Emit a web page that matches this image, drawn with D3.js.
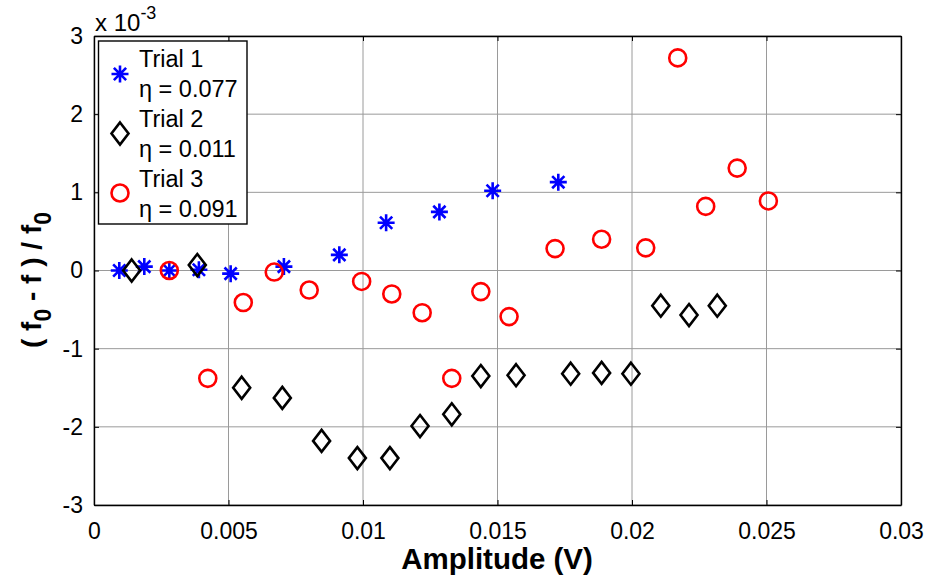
<!DOCTYPE html>
<html>
<head>
<meta charset="utf-8">
<script src="https://cdn.jsdelivr.net/npm/d3@7"></script>
<style>
  body { margin: 0; background: #fff; }
  svg { display: block; font-family: "Liberation Sans", Arial, sans-serif; }
</style>
</head>
<body>
<svg id="chart" width="928" height="577"></svg>
<script>
// Amplitude (V) and relative frequency shift (x 1e-3) for each trial
const trial1X = [0.00094, 0.00187, 0.0028, 0.0039, 0.00508, 0.00706, 0.00912, 0.01086, 0.01284, 0.01482, 0.01726];
const trial1Y = [0.0, 0.05, 0.0, 0.01, -0.04, 0.05, 0.2, 0.61, 0.75, 1.02, 1.13];

const trial2X = [0.0014, 0.00384, 0.00549, 0.007, 0.00846, 0.00979, 0.011, 0.01212, 0.0133, 0.01438, 0.01569, 0.01772, 0.01887, 0.01996, 0.02107, 0.02212, 0.02317];
const trial2Y = [0.0, 0.07, -1.50, -1.63, -2.18, -2.40, -2.40, -1.99, -1.84, -1.35, -1.34, -1.32, -1.31, -1.32, -0.45, -0.57, -0.45];

const trial3X = [0.0028, 0.00423, 0.00555, 0.0067, 0.008, 0.00995, 0.01107, 0.0122, 0.0133, 0.01438, 0.01543, 0.01714, 0.01887, 0.02051, 0.0217, 0.02274, 0.02391, 0.02507];
const trial3Y = [0.0, -1.38, -0.41, -0.02, -0.25, -0.14, -0.30, -0.54, -1.38, -0.27, -0.59, 0.28, 0.40, 0.29, 2.72, 0.82, 1.31, 0.89];

const xTicks = [0, 0.005, 0.01, 0.015, 0.02, 0.025, 0.03];
const xTickLabels = ["0", "0.005", "0.01", "0.015", "0.02", "0.025", "0.03"];
const yTicks = [-3, -2, -1, 0, 1, 2, 3];

const legendLabels = [["Trial 1", "\u03b7 = 0.077"], ["Trial 2", "\u03b7 = 0.011"], ["Trial 3", "\u03b7 = 0.091"]];

const svg = d3.select("#chart");
const plotLeft = 94, plotRight = 901, plotTop = 36, plotBottom = 505;

const x = d3.scaleLinear().domain([0, 0.03]).range([plotLeft, plotRight]);
const y = d3.scaleLinear().domain([-3, 3]).range([plotBottom, plotTop]);

// grid
const grid = svg.append("g").attr("stroke", "#9a9a9a").attr("stroke-width", 1);
xTicks.forEach(t => grid.append("line").attr("x1", x(t)).attr("x2", x(t)).attr("y1", plotTop).attr("y2", plotBottom));
yTicks.forEach(t => grid.append("line").attr("y1", y(t)).attr("y2", y(t)).attr("x1", plotLeft).attr("x2", plotRight));

// axes with inward ticks on all four sides
const tickLen = 5;
const axisFont = "23px";
const xb = svg.append("g").attr("transform", `translate(0,${plotBottom})`)
  .call(d3.axisBottom(x).tickValues(xTicks).tickFormat((d, i) => xTickLabels[i]).tickSizeInner(-tickLen).tickSizeOuter(0).tickPadding(18));
const xt = svg.append("g").attr("transform", `translate(0,${plotTop})`)
  .call(d3.axisTop(x).tickValues(xTicks).tickFormat("").tickSizeInner(-tickLen).tickSizeOuter(0));
const yl = svg.append("g").attr("transform", `translate(${plotLeft},0)`)
  .call(d3.axisLeft(y).tickValues(yTicks).tickFormat(d3.format("d")).tickSizeInner(-tickLen).tickSizeOuter(0).tickPadding(11));
const yr = svg.append("g").attr("transform", `translate(${plotRight},0)`)
  .call(d3.axisRight(y).tickValues(yTicks).tickFormat("").tickSizeInner(-tickLen).tickSizeOuter(0));
[xb, xt, yl, yr].forEach(g => {
  g.select(".domain").attr("stroke", "#000").attr("stroke-width", 1.4);
  g.selectAll(".tick line").attr("stroke", "#000");
  g.selectAll("text").attr("fill", "#000").style("font-size", axisFont).style("font-family", '"Liberation Sans", Arial, sans-serif');
});
yl.selectAll(".tick text").text(d => d < 0 ? "-" + Math.abs(d) : d);

// exponent label
const expo = svg.append("text").attr("x", plotLeft + 1).attr("y", 31).style("font-size", "24px");
expo.append("tspan").text("x 10");
expo.append("tspan").attr("dy", -12).style("font-size", "18px").text("-3");

// axis titles
svg.append("text").attr("x", 497).attr("y", 569)
  .attr("text-anchor", "middle").style("font-size", "29.5px").style("font-weight", "bold")
  .text("Amplitude (V)");

const yt = svg.append("text").attr("transform", `translate(41,280) rotate(-90)`)
  .attr("text-anchor", "middle").style("font-size", "28px").style("font-weight", "bold");
yt.append("tspan").text("( f");
yt.append("tspan").attr("dy", 10).style("font-size", "23px").text("0");
yt.append("tspan").attr("dy", -10).text(" - f ) / f");
yt.append("tspan").attr("dy", 10).style("font-size", "23px").text("0");

// marker shapes
const asterisk = (s) => {
  const r = s / 2, d = r * 0.72;
  return `M${-r},0L${r},0M0,${-r}L0,${r}M${-d},${-d}L${d},${d}M${-d},${d}L${d},${-d}`;
};
const diamond = (w, h) => `M0,${-h / 2}L${w / 2},0L0,${h / 2}L${-w / 2},0Z`;

function drawMarker(g, kind, cx, cy) {
  if (kind === 1) {
    g.append("path").attr("d", asterisk(17)).attr("transform", `translate(${cx},${cy})`)
      .attr("stroke", "#0000ff").attr("stroke-width", 2.6).attr("fill", "none");
  } else if (kind === 2) {
    g.append("path").attr("d", diamond(17, 22)).attr("transform", `translate(${cx},${cy})`)
      .attr("stroke", "#000").attr("stroke-width", 2.6).attr("fill", "none");
  } else {
    g.append("circle").attr("cx", cx).attr("cy", cy).attr("r", 8.5)
      .attr("stroke", "#ff0000").attr("stroke-width", 2.6).attr("fill", "none");
  }
}

const marks = svg.append("g");
trial1X.forEach((v, i) => drawMarker(marks, 1, x(v), y(trial1Y[i])));
trial2X.forEach((v, i) => drawMarker(marks, 2, x(v), y(trial2Y[i])));
trial3X.forEach((v, i) => drawMarker(marks, 3, x(v), y(trial3Y[i])));

// legend
const lg = svg.append("g");
lg.append("rect").attr("x", 98.5).attr("y", 41).attr("width", 148.5).attr("height", 183)
  .attr("fill", "#fff").attr("stroke", "#000").attr("stroke-width", 1.4);
legendLabels.forEach((lab, i) => {
  const cy = 74 + i * 59.5;
  drawMarker(lg, i + 1, 120, cy);
  lg.append("text").attr("x", 139).attr("y", 67 + i * 60).style("font-size", "23.5px").text(lab[0]);
  lg.append("text").attr("x", 139).attr("y", 96.5 + i * 60).style("font-size", "23.5px").text(lab[1]);
});
</script>
</body>
</html>
